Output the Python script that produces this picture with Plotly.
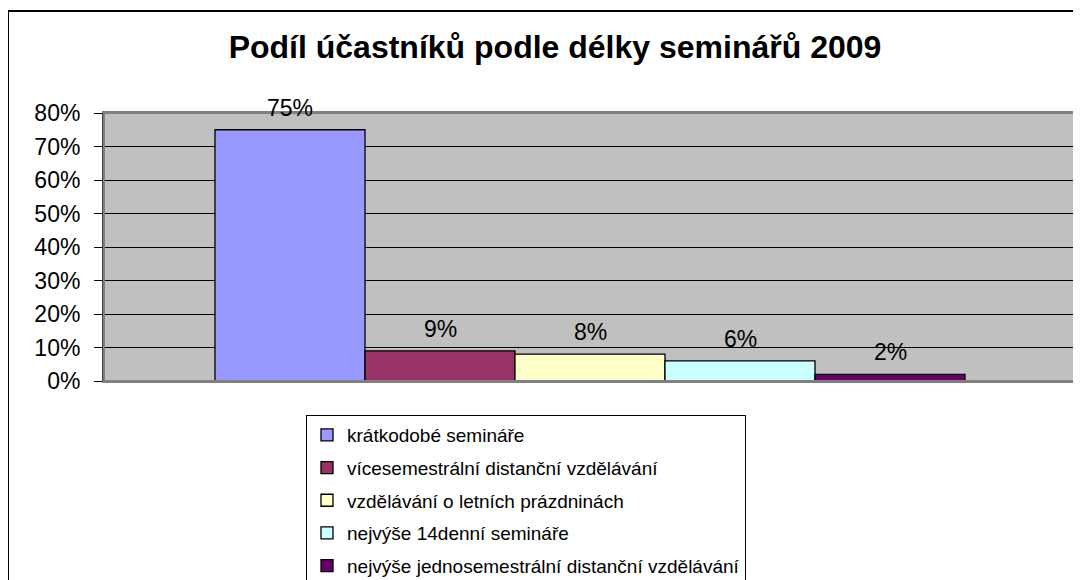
import plotly.graph_objects as go

title_text = "Podíl účastníků podle délky seminářů 2009"
series_names = [
    "krátkodobé semináře",
    "vícesemestrální distanční vzdělávání",
    "vzdělávání o letních prázdninách",
    "nejvýše 14denní semináře",
    "nejvýše jednosemestrální distanční vzdělávání",
]
series_values = [0.75, 0.09, 0.08, 0.06, 0.02]
series_labels = ["75%", "9%", "8%", "6%", "2%"]
series_colors = ["#9999FF", "#993366", "#FFFFCC", "#CCFFFF", "#660066"]
y_ticks = [0, 0.1, 0.2, 0.3, 0.4, 0.5, 0.6, 0.7, 0.8]
y_tick_labels = ["0%", "10%", "20%", "30%", "40%", "50%", "60%", "70%", "80%"]

FONT = "Liberation Sans, Arial, sans-serif"

# page is rendered with an 8px body margin -> work in figure coordinates
OFF = 8
W, H = 1081, 580
PL, PR, PT, PB = 104 - OFF, 1076 - OFF, 113 - OFF, 381 - OFF
PW, PH = PR - PL, PB - PT


def px(xp):
    return (xp - OFF - PL) / PW


def py(yp):
    return (PB - (yp - OFF)) / PH


fig = go.Figure()
for i, (name, val, col) in enumerate(zip(series_names, series_values, series_colors)):
    fig.add_trace(go.Bar(
        x=[i], y=[val], name=name, width=1,
        marker=dict(color=col, line=dict(color="black", width=1.3)),
        legendgroup=f"g{i}",
        hoverinfo="skip",
    ))
    fig.add_annotation(
        x=i, y=val, text=series_labels[i], showarrow=False,
        yanchor="middle", yshift=22,
        font=dict(family=FONT, size=23, color="black"),
    )

fig.update_layout(
    width=W, height=H,
    margin=dict(l=PL, r=W - PR, t=PT, b=H - PB, autoexpand=False),
    paper_bgcolor="white",
    plot_bgcolor="#C0C0C0",
    barmode="overlay",
    title=dict(
        text=f"<b>{title_text}</b>",
        x=(555 - OFF) / W, xanchor="center", xref="container",
        y=1 - (47 - OFF) / H, yanchor="middle", yref="container",
        font=dict(family=FONT, size=32, color="black"),
    ),
    showlegend=True,
    legend=dict(
        x=px(306), xanchor="left",
        y=py(415), yanchor="top",
        bgcolor="white", bordercolor="black", borderwidth=1,
        font=dict(family=FONT, size=19, color="black"),
        traceorder="grouped", tracegroupgap=5,
        itemwidth=30,
    ),
    xaxis=dict(
        range=[-1.24, 5.24],
        showgrid=False, zeroline=False,
        showticklabels=False, ticks="",
        showline=True, linecolor="#808080", linewidth=2, mirror=True,
        fixedrange=True,
    ),
    yaxis=dict(
        range=[0, 0.8],
        tickvals=y_ticks, ticktext=y_tick_labels,
        showgrid=True, gridcolor="black", gridwidth=1,
        zeroline=False,
        ticks="outside", ticklen=8, tickcolor="black", tickwidth=1,
        ticklabelstandoff=9,
        showline=True, linecolor="#404040", linewidth=2,
        tickfont=dict(family=FONT, size=23, color="black"),
        fixedrange=True,
    ),
    shapes=[
        dict(type="rect", xref="paper", yref="paper", x0=0, x1=1, y0=0, y1=1,
             line=dict(color="#808080", width=2), fillcolor="rgba(0,0,0,0)", layer="above"),
        dict(type="rect", xref="paper", yref="paper",
             x0=px(8), x1=1.2, y0=-1.5, y1=py(11),
             line=dict(color="black", width=2), fillcolor="rgba(0,0,0,0)", layer="above"),
    ],
)

fig.write_html("out.html")
